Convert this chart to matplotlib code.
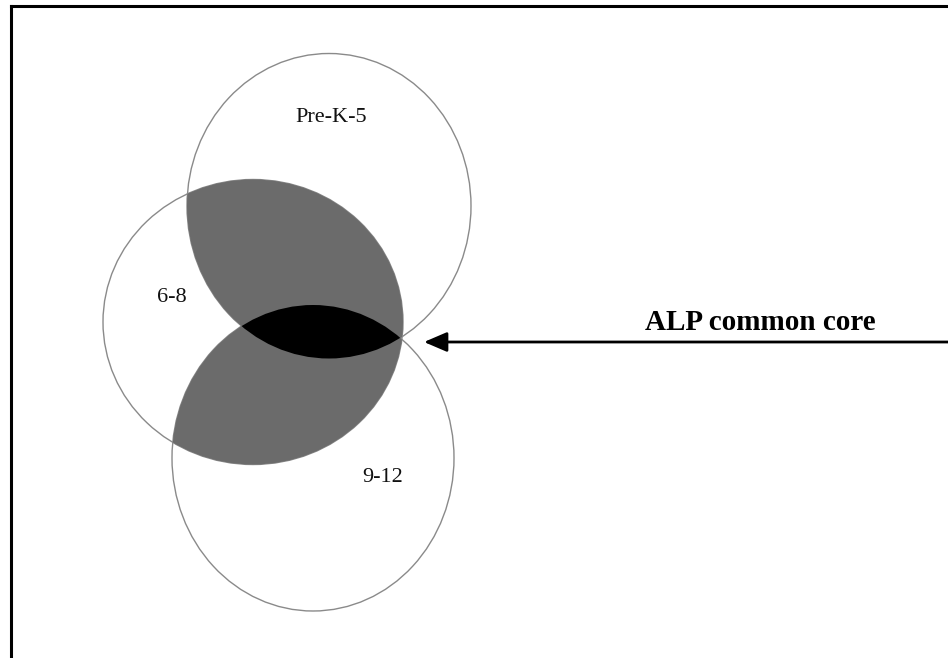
import matplotlib
matplotlib.use("Agg")
from matplotlib import pyplot as plt
from matplotlib.patches import Ellipse

# circle labels and their geometry (in pixel units of the picture)
LABELS = ["Pre-K-5", "6-8", "9-12"]
CENTERS = [(329, 206), (253, 322), (313, 458)]
WIDTHS = [284, 300, 282]
HEIGHTS = [305, 285, 306]
LABEL_POS = [(331, 118), (172, 297), (383, 478)]

CORE_LABEL = "ALP common core"

SERIF = ["Liberation Serif", "DejaVu Serif"]
OUTLINE = "#8a8a8a"
OVERLAP_GREY = "#6b6b6b"


def ellipse(i, **kw):
    return Ellipse(CENTERS[i], WIDTHS[i], HEIGHTS[i], **kw)


def main():
    fig = plt.figure(figsize=(9.48, 6.58), dpi=100)
    ax = fig.add_axes([0, 0, 1, 1])
    ax.set_xlim(0, 948)
    ax.set_ylim(658, 0)
    ax.set_aspect("auto")
    ax.axis("off")

    # outlines first, fills cover them where regions overlap
    for i in range(len(LABELS)):
        ax.add_patch(ellipse(i, fill=False, edgecolor=OUTLINE, linewidth=1.0, zorder=1))

    # two-way overlaps with 6-8 in grey
    for i in (0, 2):
        p = ellipse(i, facecolor=OVERLAP_GREY, edgecolor="none", zorder=2)
        ax.add_patch(p)
        clip = ellipse(1, transform=ax.transData)
        p.set_clip_path(clip)

    # common core (all three) in black
    core = ellipse(0, facecolor="black", edgecolor="none", zorder=3)
    ax.add_patch(core)
    core.set_clip_path(ellipse(2, transform=ax.transData))

    for label, (x, y) in zip(LABELS, LABEL_POS):
        ax.text(x, y, label, ha="center", va="center", fontsize=16,
                family=SERIF, color="#111111", zorder=4)

    # arrow pointing at the common core
    ax.annotate("", xy=(424, 342), xytext=(950, 342),
                arrowprops=dict(arrowstyle="-|>,head_length=1.4,head_width=0.6",
                                color="black", lw=2, shrinkA=0, shrinkB=0))
    ax.text(760, 322, CORE_LABEL, ha="center", va="center", fontsize=21,
            fontweight="bold", family=SERIF, color="black")

    # frame lines (top and left only)
    ax.plot([11, 948], [6, 6], color="black", lw=2.2, solid_capstyle="projecting")
    ax.plot([11, 11], [6, 658], color="black", lw=2.2, solid_capstyle="projecting")

    fig.savefig("out.png", dpi=100)


if __name__ == "__main__":
    main()
